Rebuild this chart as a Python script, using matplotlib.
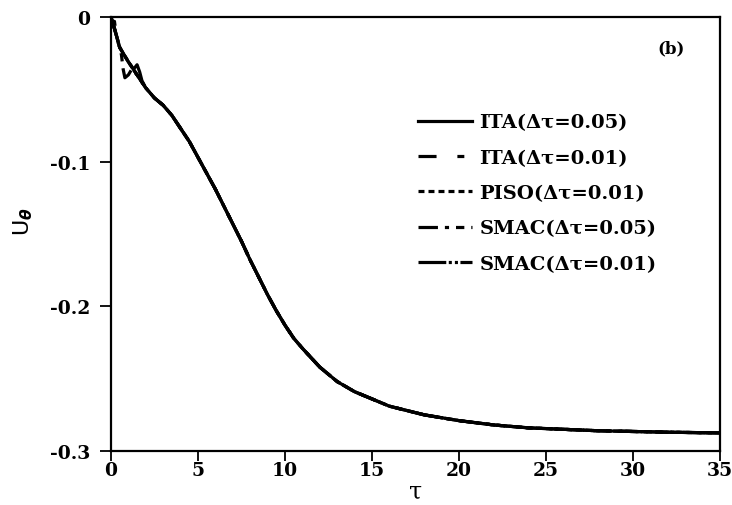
import numpy as np
import matplotlib
matplotlib.use("Agg")
import matplotlib.pyplot as plt

plt.rcParams['font.family'] = 'DejaVu Serif'
plt.rcParams['font.weight'] = 'bold'
plt.rcParams['lines.scale_dashes'] = False

# common part of the circumferential velocity history (tau >= 3)
tau_tail = [3.0, 3.5, 4.0, 4.5, 5.0, 5.5, 6.0, 6.5, 7.0, 7.5, 8.0, 8.5, 9.0, 9.5,
            10.0, 10.5, 11.0, 12.0, 13.0, 14.0, 15.0, 16.0, 17.0, 18.0, 19.0, 20.0,
            22.0, 24.0, 26.0, 28.0, 30.0, 32.0, 35.0]
u_tail = [-0.061, -0.068, -0.077, -0.086, -0.097, -0.108, -0.119, -0.131, -0.143,
          -0.155, -0.168, -0.180, -0.192, -0.203, -0.213, -0.222, -0.229, -0.242,
          -0.252, -0.259, -0.264, -0.269, -0.272, -0.275, -0.277, -0.279, -0.282,
          -0.284, -0.285, -0.286, -0.2865, -0.287, -0.2875]

# start-up transients of each scheme (tau < 3)
tau_ita05 = [0.0, 0.25, 0.5, 1.0, 1.5, 2.0, 2.5]
u_ita05 = [0.0, -0.010, -0.021, -0.031, -0.040, -0.049, -0.056]

tau_ita01 = [0.0, 0.1, 0.2, 0.3, 0.5, 1.0, 1.5, 2.0, 2.5]
u_ita01 = [0.0, -0.006, -0.003, -0.012, -0.021, -0.031, -0.040, -0.049, -0.056]

tau_piso01 = [0.0, 0.25, 0.5, 1.0, 1.5, 2.0, 2.5]
u_piso01 = [0.0, -0.010, -0.021, -0.031, -0.040, -0.049, -0.056]

tau_smac05 = [0.0, 0.2, 0.4, 0.6, 0.7, 0.8, 1.0, 1.2, 1.5, 2.0, 2.5]
u_smac05 = [0.0, -0.008, -0.017, -0.026, -0.036, -0.042, -0.040, -0.036, -0.040, -0.049, -0.056]

tau_smac01 = [0.0, 0.25, 0.5, 1.0, 1.3, 1.5, 1.65, 1.78, 2.0, 2.5]
u_smac01 = [0.0, -0.010, -0.021, -0.031, -0.036, -0.033, -0.038, -0.044, -0.049, -0.056]

labels = ['ITA(Δτ=0.05)', 'ITA(Δτ=0.01)', 'PISO(Δτ=0.01)', 'SMAC(Δτ=0.05)', 'SMAC(Δτ=0.01)']
heads = [(tau_ita05, u_ita05), (tau_ita01, u_ita01), (tau_piso01, u_piso01),
         (tau_smac05, u_smac05), (tau_smac01, u_smac01)]
# tracos: cheio, traco-traquinho, tracejado curto, traco-ponto-traco, traco-dois-pontos
estilos = ['-',
           (0, (13, 15, 5, 15)),
           (0, (4.3, 2.9)),
           (0, (14, 5, 3, 5, 6, 5)),
           (0, (20, 1.8, 2.2, 2.2, 2.2, 1.8, 9.5, 2))]

fig = plt.figure(figsize=(7.32, 5.06), dpi=100)
ax = fig.add_axes([0.1516, 0.1067, 0.832, 0.8577])

for (th, uh), ls, lab in zip(heads, estilos, labels):
    t = np.array(th + tau_tail)
    u = np.array(uh + u_tail)
    ax.plot(t, u, color='black', lw=2.3, linestyle=ls, label=lab)

ax.set_xlim(0, 35)
ax.set_ylim(-0.3, 0)
ax.set_xticks([0, 5, 10, 15, 20, 25, 30, 35])
ax.set_xticklabels(['0', '5', '10', '15', '20', '25', '30', '35'])
ax.set_yticks([0, -0.1, -0.2, -0.3])
ax.set_yticklabels(['0', '-0.1', '-0.2', '-0.3'])
ax.tick_params(direction='out', width=1.3, labelsize=13.5)
ax.tick_params(axis='x', length=7, pad=0.5)
ax.tick_params(axis='y', length=8, pad=7)
for s in ax.spines.values():
    s.set_linewidth(1.6)

ax.set_xlabel('τ', fontsize=17, labelpad=0)
ax.set_ylabel('U$_\\theta$', fontsize=16, fontfamily='DejaVu Sans', fontweight='normal')
ax.yaxis.set_label_coords(-0.124, 0.53)

ax.text(0.92, 0.93, '(b)', transform=ax.transAxes, fontsize=12, ha='center', va='center')

leg = ax.legend(loc='upper left', bbox_to_anchor=(0.488, 0.80), frameon=False,
                fontsize=14, handlelength=2.8, handletextpad=0.36, labelspacing=0.89,
                borderpad=0)

fig.savefig('out.png', dpi=100)
